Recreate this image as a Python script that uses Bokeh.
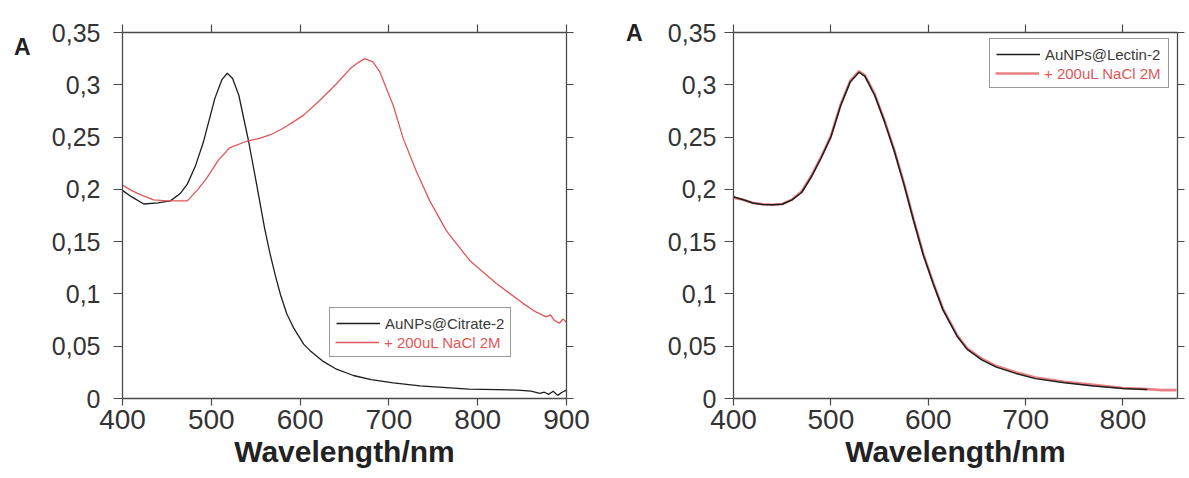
from bokeh.plotting import figure
from bokeh.models import (Range1d, LinearAxis, FixedTicker, Legend, LegendItem,
                          CustomJSTickFormatter)
from bokeh.layouts import row
from bokeh.embed import file_html
from bokeh.resources import INLINE

# ---------------- data ----------------
x_ticks = [400, 500, 600, 700, 800, 900]
x_tick_labels = ["400", "500", "600", "700", "800", "900"]
y_ticks = [0.0, 0.05, 0.1, 0.15, 0.2, 0.25, 0.3, 0.35]
y_tick_labels = ["0", "0,05", "0,1", "0,15", "0,2", "0,25", "0,3", "0,35"]
x_label = "Wavelength/nm"
y_label = "A"

# Left panel: AuNPs@Citrate-2
wl_citrate = [400, 410, 424, 440, 454, 465, 473, 482, 491, 504, 512, 518, 524, 531, 542, 551,
              560, 566, 572, 578, 585, 593, 604, 611, 625, 641, 660, 680, 705, 735, 790, 845,
              860, 870, 875, 880, 885, 890, 895, 900]
abs_citrate = [0.199, 0.193, 0.186, 0.187, 0.189, 0.196, 0.205, 0.222, 0.245, 0.287, 0.305, 0.311,
               0.306, 0.290, 0.246, 0.205, 0.163, 0.139, 0.118, 0.099, 0.081, 0.067, 0.052, 0.046,
               0.036, 0.028, 0.022, 0.018, 0.015, 0.012, 0.009, 0.008, 0.007, 0.005, 0.006,
               0.004, 0.007, 0.003, 0.006, 0.008]

wl_citrate_nacl = [400, 410, 420, 435, 450, 473, 485, 495, 508, 521, 540, 555, 566, 580, 595,
                   604, 622, 641, 656, 665, 673, 682, 690, 697, 705, 716, 731, 746, 765, 791,
                   821, 851, 865, 877, 882, 886, 892, 896, 900]
abs_citrate_nacl = [0.204, 0.199, 0.195, 0.190, 0.189, 0.189, 0.200, 0.211, 0.228, 0.240, 0.246,
                    0.249, 0.252, 0.258, 0.266, 0.271, 0.285, 0.301, 0.315, 0.321, 0.325, 0.322,
                    0.312, 0.297, 0.280, 0.249, 0.217, 0.189, 0.160, 0.132, 0.110, 0.091, 0.083,
                    0.078, 0.080, 0.075, 0.072, 0.076, 0.073]

# Right panel: AuNPs@Lectin-2
wl_lectin = [400, 410, 420, 430, 440, 450, 460, 470, 480, 490, 500, 510, 520, 529, 535, 545,
             555, 565, 575, 585, 595, 605, 615, 630, 640, 655, 670, 690, 710, 740, 770, 800, 825]
abs_lectin = [0.193, 0.190, 0.187, 0.1855, 0.1852, 0.1858, 0.190, 0.197, 0.212, 0.230, 0.250,
              0.280, 0.303, 0.312, 0.308, 0.290, 0.265, 0.237, 0.205, 0.170, 0.137, 0.110, 0.085,
              0.059, 0.047, 0.037, 0.030, 0.024, 0.019, 0.015, 0.012, 0.0095, 0.0085]

wl_lectin_nacl = [400, 410, 420, 430, 440, 450, 460, 470, 480, 490, 500, 510, 520, 529, 535,
                  545, 555, 565, 575, 585, 595, 605, 615, 630, 640, 655, 670, 690, 710, 740,
                  770, 800, 825, 840, 855]
abs_lectin_nacl = [0.192, 0.190, 0.187, 0.1857, 0.1853, 0.1860, 0.190, 0.198, 0.213, 0.231,
                   0.251, 0.281, 0.304, 0.313, 0.309, 0.291, 0.266, 0.238, 0.206, 0.171, 0.138,
                   0.111, 0.086, 0.060, 0.048, 0.038, 0.031, 0.025, 0.020, 0.016, 0.013, 0.010,
                   0.009, 0.008, 0.008]

labels_left = ["AuNPs@Citrate-2", "+ 200uL NaCl 2M"]
labels_right = ["AuNPs@Lectin-2", "+ 200uL NaCl 2M"]

# ---------------- style ----------------
FONT = "Liberation Sans"
AXIS_COLOR = "#4a4a4a"
TEXT_COLOR = "#333333"
BLACK = "#1e1e1e"
RED = "#e0575a"


def blank():
    return CustomJSTickFormatter(code="return ''")


def make_fig(width, height, xmax, mb_left, mb_right, mb_top, mb_bottom, ylab_standoff,
             a_pos, a_standoff):
    p = figure(width=width, height=height, output_backend="svg", toolbar_location=None,
               x_range=Range1d(400, xmax), y_range=Range1d(0, 0.35),
               min_border_left=mb_left, min_border_right=mb_right,
               min_border_top=mb_top, min_border_bottom=mb_bottom)
    p.background_fill_color = "white"
    p.border_fill_color = "white"
    p.outline_line_color = None
    p.xgrid.visible = False
    p.ygrid.visible = False

    xa = p.xaxis[0]
    xa.ticker = FixedTicker(ticks=x_ticks)
    xa.major_label_overrides = dict(zip(x_ticks, x_tick_labels))
    xa.axis_label = x_label
    xa.axis_label_text_font = FONT
    xa.axis_label_text_font_style = "bold"
    xa.axis_label_text_font_size = "30px"
    xa.axis_label_text_color = "#222222"
    xa.axis_label_standoff = 3
    xa.major_label_text_font = FONT
    xa.major_label_text_font_size = "28px"
    xa.major_label_text_color = TEXT_COLOR
    xa.major_label_standoff = 4
    xa.major_tick_out = 7
    xa.major_tick_in = 0
    xa.minor_tick_line_color = None
    xa.axis_line_color = AXIS_COLOR
    xa.major_tick_line_color = AXIS_COLOR
    xa.axis_line_width = 1.3
    xa.major_tick_line_width = 1.2

    ya = p.yaxis[0]
    ya.ticker = FixedTicker(ticks=y_ticks)
    ya.major_label_overrides = dict(zip(y_ticks, y_tick_labels))
    ya.major_label_text_font = FONT
    ya.major_label_text_font_size = "25px"
    ya.major_label_text_color = TEXT_COLOR
    ya.major_label_standoff = ylab_standoff
    ya.major_tick_out = 9
    ya.major_tick_in = 0
    ya.minor_tick_line_color = None
    ya.axis_line_color = AXIS_COLOR
    ya.major_tick_line_color = AXIS_COLOR
    ya.axis_line_width = 1.3
    ya.major_tick_line_width = 1.2

    # the bold "A" (absorbance) label, drawn as the single label of an outer left axis
    a_axis = LinearAxis(ticker=FixedTicker(ticks=[a_pos]),
                        major_label_overrides={a_pos: y_label},
                        major_label_text_font=FONT, major_label_text_font_style="bold",
                        major_label_text_font_size="23px", major_label_text_color="#222222",
                        major_label_standoff=a_standoff, major_tick_out=0, major_tick_in=0,
                        major_tick_line_color=None, minor_tick_line_color=None,
                        axis_line_color=None)
    p.add_layout(a_axis, "left")

    top = LinearAxis(ticker=FixedTicker(ticks=x_ticks), formatter=blank(),
                     major_label_text_color=None, major_label_text_font_size="8px",
                     major_label_standoff=0, major_tick_out=8, major_tick_in=0,
                     minor_tick_line_color=None, axis_line_color=AXIS_COLOR,
                     major_tick_line_color=AXIS_COLOR, axis_line_width=1.3,
                     major_tick_line_width=1.2)
    p.add_layout(top, "above")
    right = LinearAxis(ticker=FixedTicker(ticks=y_ticks), formatter=blank(),
                       major_label_text_color=None, major_label_text_font_size="8px",
                       major_label_standoff=0, major_tick_out=7, major_tick_in=0,
                       minor_tick_line_color=None, axis_line_color=AXIS_COLOR,
                       major_tick_line_color=AXIS_COLOR, axis_line_width=1.3,
                       major_tick_line_width=1.2)
    p.add_layout(right, "right")
    return p


def add_legend(p, r1, r2, labels, loc):
    common = dict(spacing=0, label_height=18, glyph_height=18, glyph_width=44,
                  label_standoff=5, margin=0, label_text_font=FONT,
                  label_text_font_size="15px", label_text_baseline="middle")
    leg_a = Legend(items=[LegendItem(label=labels[0], renderers=[r1]),
                          LegendItem(label=labels[1], renderers=[r2])],
                   location=loc, padding=6, border_line_color="#333333",
                   border_line_width=1.3, background_fill_color="white",
                   background_fill_alpha=1.0, label_text_color="#3a3a3a", **common)
    leg_b = Legend(items=[LegendItem(label=labels[1], renderers=[r2])],
                   location=(loc[0] + 6, loc[1] + 6), padding=0, border_line_color=None,
                   background_fill_color="white", background_fill_alpha=1.0,
                   label_text_color=RED, **common)
    p.add_layout(leg_a, "center")
    p.add_layout(leg_b, "center")


# ---------------- left figure ----------------
p1 = make_fig(598, 470, 900, 122, 32, 30, 71, 13, 0.336, 18)
r1b = p1.line(wl_citrate, abs_citrate, line_color=BLACK, line_width=1.3)
r1r = p1.line(wl_citrate_nacl, abs_citrate_nacl, line_color=RED, line_width=1.3)
add_legend(p1, r1b, r1r, labels_left, (207, 41))

# ---------------- right figure ----------------
p2 = make_fig(591, 470, 856, 135, 12, 32, 72, 8, 0.35, 22)
r2r = p2.line(wl_lectin_nacl, abs_lectin_nacl, line_color=RED, line_width=2.6, line_alpha=0.75)
r2b = p2.line(wl_lectin, abs_lectin, line_color=BLACK, line_width=1.5)
add_legend(p2, r2b, r2r, labels_right, (256, 310))

layout = row(p1, p2, spacing=0)
open("out.html", "w").write(file_html(layout, INLINE))
